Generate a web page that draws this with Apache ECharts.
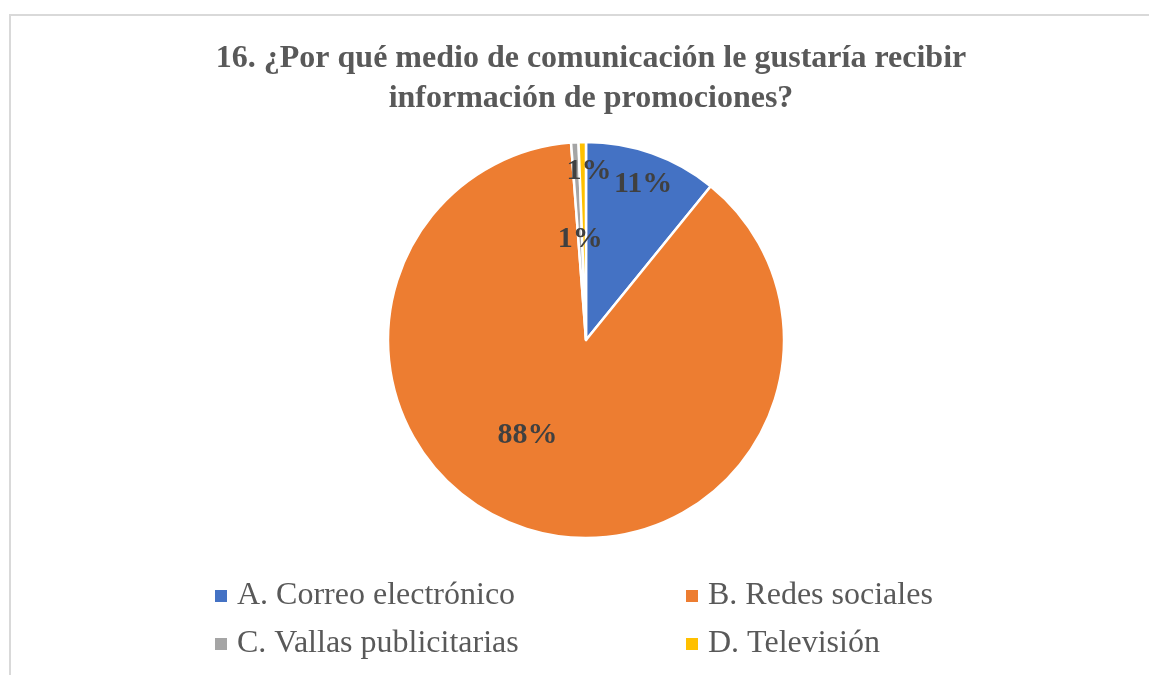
<!DOCTYPE html>
<html>
<head>
<meta charset="utf-8">
<script src="https://cdn.jsdelivr.net/npm/echarts@6/dist/echarts.min.js"></script>
<style>
html,body{margin:0;padding:0;background:#fff;}
#chart{position:absolute;left:0;top:0;width:1149px;height:675px;}
#frame{position:absolute;left:9px;top:14px;width:1200px;height:700px;border-left:2px solid #d9d9d9;border-top:2px solid #d9d9d9;pointer-events:none;}
</style>
</head>
<body>
<div id="chart"></div>
<div id="frame"></div>
<script>
const titleText = "16. ¿Por qué medio de comunicación le gustaría recibir\ninformación de promociones?";
const categories = ["A. Correo electrónico", "B. Redes sociales", "C. Vallas publicitarias", "D. Televisión"];
const values = [18, 146, 1, 1];
const colors = ["#4472c4", "#ed7d31", "#a5a5a5", "#ffc000"];
const labelShift = [[23, -60], [-28, -2], [0, 1], [5, -67]];

const chart = echarts.init(document.getElementById('chart'), null, {renderer: 'canvas'});
const serif = '"Liberation Serif", "Times New Roman", serif';
const legendText = {fontFamily: serif, fontSize: 32, lineHeight: 32, color: '#595959', padding: [0, 0, 0, 4]};
chart.setOption({
  animation: false,
  title: {
    text: titleText,
    left: 586, textAlign: 'center',
    top: 34,
    textStyle: {fontFamily: serif, fontWeight: 'bold', fontSize: 32, lineHeight: 40, color: '#595959'}
  },
  color: colors,
  legend: [
    {
      data: [categories[0], categories[2]],
      orient: 'vertical', left: 213, top: 580, itemGap: 16, padding: 0,
      icon: 'rect', itemWidth: 14, itemHeight: 14,
      textStyle: legendText
    },
    {
      data: [categories[1], categories[3]],
      orient: 'vertical', left: 684, top: 580, itemGap: 16, padding: 0,
      icon: 'rect', itemWidth: 14, itemHeight: 14,
      textStyle: legendText
    }
  ],
  series: [{
    type: 'pie',
    center: [586, 340],
    radius: 198,
    startAngle: 90,
    clockwise: true,
    data: categories.map((c, i) => ({name: c, value: values[i]})),
    itemStyle: {borderColor: '#fff', borderWidth: 2.5},
    label: {
      show: true, position: 'inside',
      formatter: p => Math.round(p.percent) + '%',
      fontFamily: serif, fontWeight: 'bold', fontSize: 30, color: '#404040'
    },
    labelLine: {show: false},
    labelLayout: p => ({dx: labelShift[p.dataIndex][0], dy: labelShift[p.dataIndex][1]})
  }]
});
</script>
</body>
</html>
